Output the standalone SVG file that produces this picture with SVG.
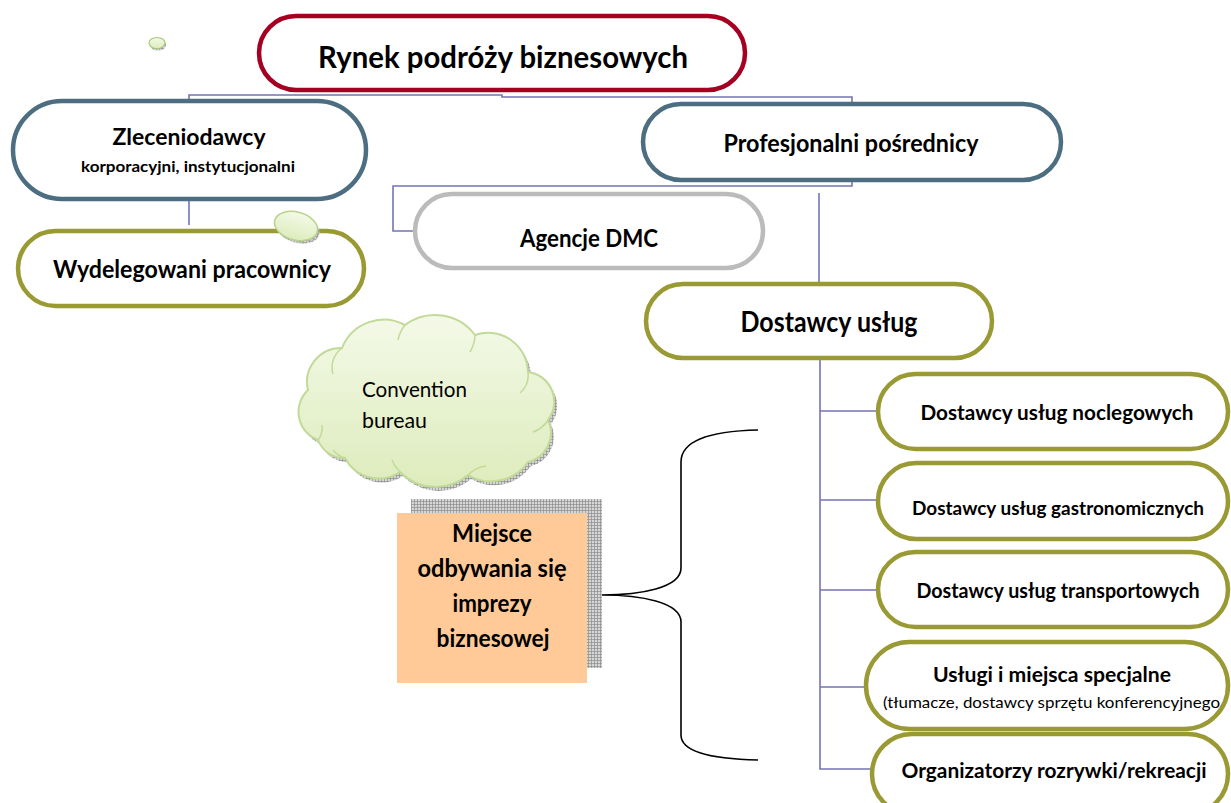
<svg xmlns="http://www.w3.org/2000/svg" width="1231" height="803" viewBox="0 0 1231 803">
<defs>
<style>
.pill{fill:#ffffff;stroke-width:4.5}
.red{stroke:#A50021}
.blue{stroke:#4D6E80}
.olive{stroke:#9A9A34}
.grey{stroke:#BBBBBB}
.conn{fill:none;stroke:#7474B4;stroke-width:1.6}
.t{font-family:Lato,"Liberation Sans",sans-serif;font-weight:bold;fill:#000;text-anchor:middle}
.r{font-family:Lato,"Liberation Sans",sans-serif;font-weight:normal;fill:#000}
</style>
<pattern id="hatch" width="3" height="3" patternUnits="userSpaceOnUse">
<rect width="3" height="3" fill="#d6d6d6"/>
<path d="M0,0.5H3M0.5,0V3" stroke="#8c8c8c" stroke-width="0.7"/>
</pattern>
<linearGradient id="cloudG" x1="0" y1="0" x2="0" y2="1">
<stop offset="0" stop-color="#F4F9E8"/>
<stop offset="1" stop-color="#DDECBC"/>
</linearGradient>
<path id="cloudShape" d="M318,440 A30,30 0 0 1 308,390 A34,34 0 0 1 342,348 A45,45 0 0 1 405,325 A50,50 0 0 1 475,335 A40,40 0 0 1 528,372 A30,30 0 0 1 548,420 A30,30 0 0 1 528,462 A45,45 0 0 1 468,475 A50,50 0 0 1 400,472 A38,38 0 0 1 345,458 A28,28 0 0 1 318,440 Z"/>
</defs>
<rect width="1231" height="803" fill="#ffffff"/>

<g id="connectors">
<path class="conn" d="M189,100 V95 H502 V97 H852 V104"/>
<path class="conn" d="M189,200 V225"/>
<path class="conn" d="M852,180 V186 H393 V231 H414"/>
<path class="conn" d="M819,193 V283"/>
<path class="conn" d="M820,358 V769 H874 M820,411 H878 M820,500 H878 M820,590 H878 M820,687 H866"/>
<path d="M758,430 C712,431 681,440 681,462 V568 C681,588 640,595 602,595 C640,595 681,602 681,622 V735 C681,752 712,759 758,760" fill="none" stroke="#000" stroke-width="1.6"/>
</g>

<g id="node-rynek">
<rect class="pill red" x="259" y="16" width="486" height="74" rx="37"/>
<text class="t" x="503" y="68" font-size="31" textLength="370" lengthAdjust="spacingAndGlyphs">Rynek podróży biznesowych</text>
</g>

<g id="node-zleceniodawcy">
<rect class="pill blue" x="13" y="101" width="353" height="98" rx="49"/>
<text class="t" x="189" y="145" font-size="23" textLength="153" lengthAdjust="spacingAndGlyphs">Zleceniodawcy</text>
<text class="t" x="188" y="172" font-size="15" textLength="214" lengthAdjust="spacingAndGlyphs">korporacyjni, instytucjonalni</text>
</g>

<g id="node-wydelegowani">
<rect class="pill olive" x="18" y="231" width="346" height="75" rx="37.5"/>
<text class="t" x="192" y="278" font-size="24" textLength="278" lengthAdjust="spacingAndGlyphs">Wydelegowani pracownicy</text>
</g>

<g id="node-profesjonalni">
<rect class="pill blue" x="643" y="104" width="418" height="76" rx="38"/>
<text class="t" x="851" y="152" font-size="24" textLength="255" lengthAdjust="spacingAndGlyphs">Profesjonalni pośrednicy</text>
</g>

<g id="node-dmc">
<rect class="pill grey" x="415" y="194" width="348" height="74" rx="37"/>
<text class="t" x="589" y="247" font-size="24" textLength="138" lengthAdjust="spacingAndGlyphs">Agencje DMC</text>
</g>

<g id="node-dostawcy">
<rect class="pill olive" x="646" y="284" width="346" height="74" rx="37"/>
<text class="t" x="829" y="332" font-size="28" textLength="177" lengthAdjust="spacingAndGlyphs">Dostawcy usług</text>
</g>

<g id="node-noclegowych">
<rect class="pill olive" x="878" y="374" width="350" height="75" rx="37.5"/>
<text class="t" x="1057" y="420" font-size="21" textLength="273" lengthAdjust="spacingAndGlyphs">Dostawcy usług noclegowych</text>
</g>

<g id="node-gastronomicznych">
<rect class="pill olive" x="878" y="463" width="350" height="76" rx="38"/>
<text class="t" x="1058" y="515" font-size="19" textLength="292" lengthAdjust="spacingAndGlyphs">Dostawcy usług gastronomicznych</text>
</g>

<g id="node-transportowych">
<rect class="pill olive" x="878" y="552" width="350" height="75" rx="37.5"/>
<text class="t" x="1058" y="598" font-size="21" textLength="283" lengthAdjust="spacingAndGlyphs">Dostawcy usług transportowych</text>
</g>

<g id="node-specjalne">
<rect class="pill olive" x="866" y="642" width="362" height="87" rx="43.5"/>
<text class="t" x="1052" y="682" font-size="21" textLength="238" lengthAdjust="spacingAndGlyphs">Usługi i miejsca specjalne</text>
<text class="r" x="883" y="708" font-size="16" textLength="337" lengthAdjust="spacingAndGlyphs">(tłumacze, dostawcy sprzętu konferencyjnego</text>
</g>

<g id="node-organizatorzy">
<rect class="pill olive" x="872" y="734" width="356" height="80" rx="40"/>
<text class="t" x="1054" y="778" font-size="21" textLength="305" lengthAdjust="spacingAndGlyphs">Organizatorzy rozrywki/rekreacji</text>
</g>

<g id="node-convention">
<use href="#cloudShape" transform="translate(3,4)" fill="url(#hatch)"/>
<use href="#cloudShape" fill="url(#cloudG)" stroke="#C2DA98" stroke-width="2"/>
<path fill="none" stroke="#C2DA98" stroke-width="1.5" d="M333,374 A24,24 0 0 1 342,348 M398,340 A34,34 0 0 1 405,325 M470,352 A34,34 0 0 0 475,335 M520,393 A24,24 0 0 0 528,372 M548,420 A28,28 0 0 1 533,432 M486,466 A30,30 0 0 0 468,475 M400,472 A34,34 0 0 1 392,460 M345,458 A22,22 0 0 1 333,450 M318,440 A20,20 0 0 0 322,425"/>
<text class="r" x="362" y="397" font-size="21" textLength="105" lengthAdjust="spacingAndGlyphs">Convention</text>
<text class="r" x="362" y="428" font-size="21" textLength="65" lengthAdjust="spacingAndGlyphs">bureau</text>
</g>

<g id="node-miejsce">
<rect x="411" y="499" width="191" height="169" fill="url(#hatch)"/>
<rect x="397" y="513" width="190" height="170" fill="#FFCA98"/>
<text class="t" x="492" y="542" font-size="24" textLength="80" lengthAdjust="spacingAndGlyphs">Miejsce</text>
<text class="t" x="492" y="577" font-size="24" textLength="149" lengthAdjust="spacingAndGlyphs">odbywania się</text>
<text class="t" x="492" y="612" font-size="24" textLength="79" lengthAdjust="spacingAndGlyphs">imprezy</text>
<text class="t" x="493" y="647" font-size="24" textLength="113" lengthAdjust="spacingAndGlyphs">biznesowej</text>
</g>

<g id="bubbles">
<ellipse cx="158" cy="45" rx="8" ry="5.5" fill="url(#hatch)"/>
<ellipse cx="157" cy="43" rx="8" ry="5.5" fill="url(#cloudG)" stroke="#A9C87A" stroke-width="1.2"/>
<ellipse cx="298" cy="229" rx="22" ry="14" transform="rotate(15 298 229)" fill="url(#hatch)"/>
<ellipse cx="296" cy="226" rx="22" ry="14" transform="rotate(15 296 226)" fill="url(#cloudG)" stroke="#B8D38A" stroke-width="1.5"/>
</g>
</svg>
